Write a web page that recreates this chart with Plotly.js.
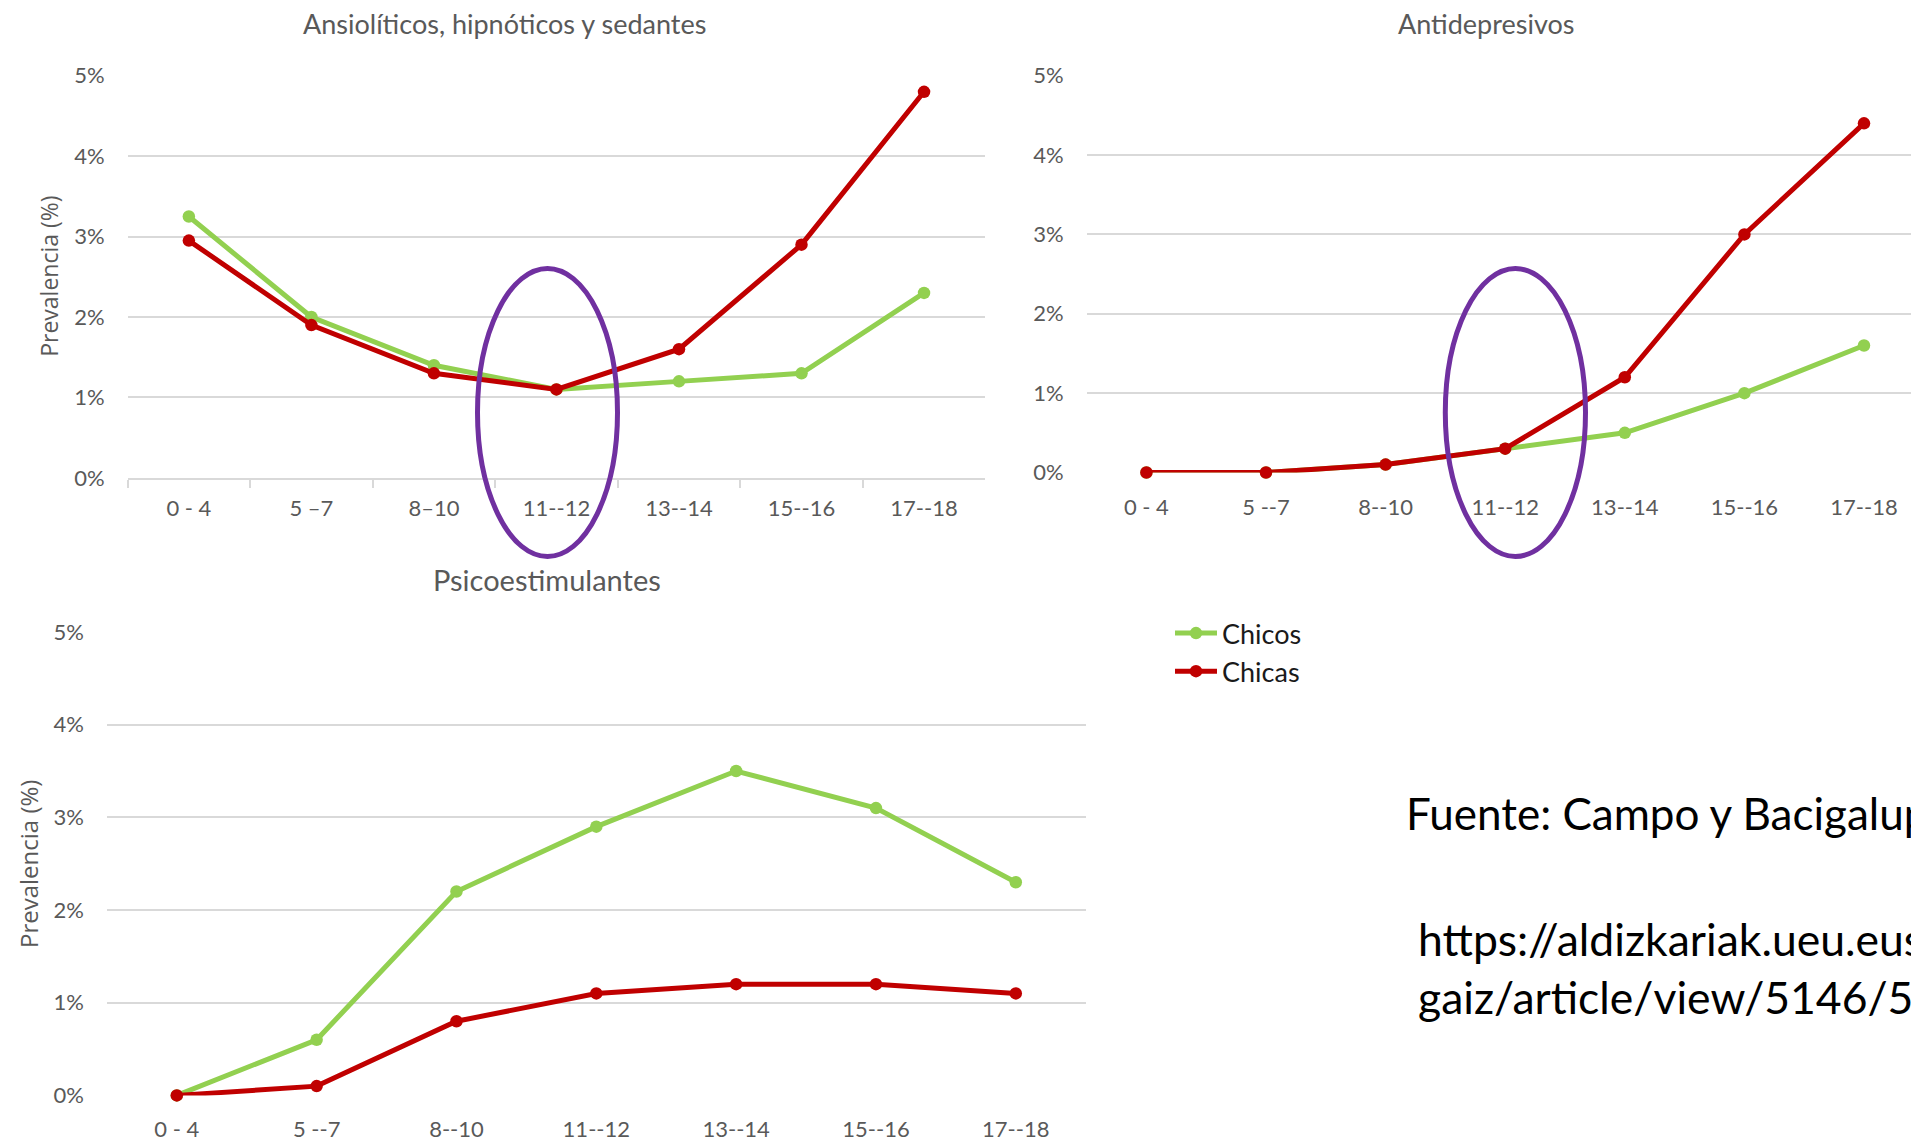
<!DOCTYPE html>
<html><head><meta charset="utf-8">
<script src="https://cdn.plot.ly/plotly-3.0.1.min.js"></script>
<style>html,body{margin:0;padding:0;background:#fff;overflow:hidden}</style>
</head><body><div id="chart" style="width:1911px;height:1145px"></div>
<script>
// ---- data ----
const ansioLabels = ["0 - 4", "5 \u20137", "8\u201310", "11--12", "13--14", "15--16", "17--18"];
const ageLabels = ["0 - 4", "5 --7", "8--10", "11--12", "13--14", "15--16", "17--18"];
const seriesNames = ["Chicos", "Chicas"];
const ansioChicos = [3.25, 2.0, 1.4, 1.1, 1.2, 1.3, 2.3];
const ansioChicas = [2.95, 1.9, 1.3, 1.1, 1.6, 2.9, 4.8];
const antiChicos = [0, 0, 0.1, 0.3, 0.5, 1.0, 1.6];
const antiChicas = [0, 0, 0.1, 0.3, 1.2, 3.0, 4.4];
const psicoChicos = [0, 0.6, 2.2, 2.9, 3.5, 3.1, 2.3];
const psicoChicas = [0, 0.1, 0.8, 1.1, 1.2, 1.2, 1.1];
const yTicks = [0, 1, 2, 3, 4, 5];
const yTickText = ["0%", "1%", "2%", "3%", "4%", "5%"];
const panelTitles = ["Ansiolíticos, hipnóticos y sedantes", "Antidepresivos", "Psicoestimulantes"];
const yTitle = "Prevalencia (%)";
const sourceText = "Fuente: Campo y Bacigalupe";
const urlLines = ["https://aldizkariak.ueu.eus/index.php/osa", "gaiz/article/view/5146/54"];

// ---- style ----
const GREEN = "#92D050", RED = "#C00000", PURPLE = "#7030A0";
const GRID = "#D9D9D9", TXT = "#595959";
const W = 1911, H = 1145;
const px = v => v / W, py = v => 1 - v / H;

function tr(x, y, name, color, xa, ya, show) {
  return {
    x: x, y: y, name: name, type: "scatter", mode: "lines+markers",
    xaxis: xa, yaxis: ya, showlegend: show, cliponaxis: false,
    line: {color: color, width: 5},
    marker: {color: color, size: 12.5}
  };
}

const data = [
  tr(ansioLabels, ansioChicos, seriesNames[0], GREEN, "x", "y", true),
  tr(ansioLabels, ansioChicas, seriesNames[1], RED, "x", "y", true),
  tr(ageLabels, antiChicos, seriesNames[0], GREEN, "x2", "y2", false),
  tr(ageLabels, antiChicas, seriesNames[1], RED, "x2", "y2", false),
  tr(ageLabels, psicoChicos, seriesNames[0], GREEN, "x3", "y3", false),
  tr(ageLabels, psicoChicas, seriesNames[1], RED, "x3", "y3", false)
];

const tickFont = {family: "Lato", size: 22, color: TXT};
function yax(dom, anchor) {
  return {
    domain: dom, anchor: anchor, range: [-0.0001, 5.0001], tickmode: "array",
    tickvals: yTicks, ticktext: yTickText,
    showgrid: true, gridcolor: GRID, gridwidth: 2, zeroline: false, showline: false,
    ticks: "", tickfont: tickFont, ticklabelstandoff: 22, fixedrange: true
  };
}
function xax(dom, anchor, range) {
  return {
    domain: dom, anchor: anchor, type: "category", range: range,
    showgrid: false, zeroline: false, showline: false, ticks: "",
    tickfont: tickFont, ticklabelstandoff: 19, fixedrange: true
  };
}

const xaxis = xax([px(127.6), px(985.3)], "y", [-0.5, 6.5]);
Object.assign(xaxis, {showline: true, linecolor: GRID, linewidth: 2, ticks: "outside",
  tickson: "boundaries", ticklen: 8, tickwidth: 2, tickcolor: GRID, ticklabelstandoff: 10});

const layout = {
  width: W, height: H, margin: {l: 0, r: 0, t: 0, b: 0},
  paper_bgcolor: "#fff", plot_bgcolor: "#fff",
  font: {family: "Lato", color: TXT},
  xaxis: xaxis,
  yaxis: yax([py(477.9), py(75.7)], "x"),
  xaxis2: xax([px(1086.6), 1], "y2", [-0.5, 6.393]),
  yaxis2: yax([py(472.5), py(75.7)], "x2"),
  xaxis3: xax([px(106.9), px(1085.7)], "y3", [-0.5, 6.5]),
  yaxis3: yax([py(1095.4), py(632)], "x3"),
  showlegend: true,
  legend: {x: px(1170), y: py(609), xanchor: "left", yanchor: "top", itemwidth: 42,
    font: {family: "Lato", size: 27, color: "#1a1a1a"}, bgcolor: "rgba(0,0,0,0)", borderwidth: 0},
  annotations: [
    {text: panelTitles[0], xref: "paper", yref: "paper", x: px(504.8), y: py(23.2), showarrow: false,
      xanchor: "center", yanchor: "middle", font: {family: "Lato", size: 27, color: TXT}},
    {text: panelTitles[1], xref: "paper", yref: "paper", x: px(1486), y: py(23.2), showarrow: false,
      xanchor: "center", yanchor: "middle", font: {family: "Lato", size: 27, color: TXT}},
    {text: panelTitles[2], xref: "paper", yref: "paper", x: px(547.2), y: py(579.4), showarrow: false,
      xanchor: "center", yanchor: "middle", font: {family: "Lato", size: 29, color: TXT}},
    {text: yTitle, xref: "paper", yref: "paper", x: px(49.4), y: py(276.4), showarrow: false, textangle: -90,
      xanchor: "center", yanchor: "middle", font: {family: "Open Sans", size: 23, color: TXT}},
    {text: yTitle, xref: "paper", yref: "paper", x: px(28), y: py(864), showarrow: false, textangle: -90,
      xanchor: "center", yanchor: "middle", font: {family: "Open Sans", size: 24, color: TXT}},
    {text: sourceText, xref: "paper", yref: "paper", x: px(1404), y: py(813), showarrow: false,
      xanchor: "left", yanchor: "middle", align: "left", font: {family: "Lato", size: 44, color: "#000"}},
    {text: urlLines.join("<br>"), xref: "paper", yref: "paper", x: px(1416), y: py(967.6), showarrow: false,
      xanchor: "left", yanchor: "middle", align: "left", font: {family: "Lato", size: 44.5, color: "#000"}}
  ],
  shapes: [
    {type: "circle", xref: "paper", yref: "paper", x0: px(477.5), x1: px(617.5), y0: py(556.5), y1: py(268.5),
      line: {color: PURPLE, width: 5}, layer: "above"},
    {type: "circle", xref: "paper", yref: "paper", x0: px(1445.3), x1: px(1585.5), y0: py(556.5), y1: py(268.5),
      line: {color: PURPLE, width: 5}, layer: "above"}
  ]
};

Plotly.newPlot("chart", data, layout, {staticPlot: true, displayModeBar: false});
</script>
</body></html>
